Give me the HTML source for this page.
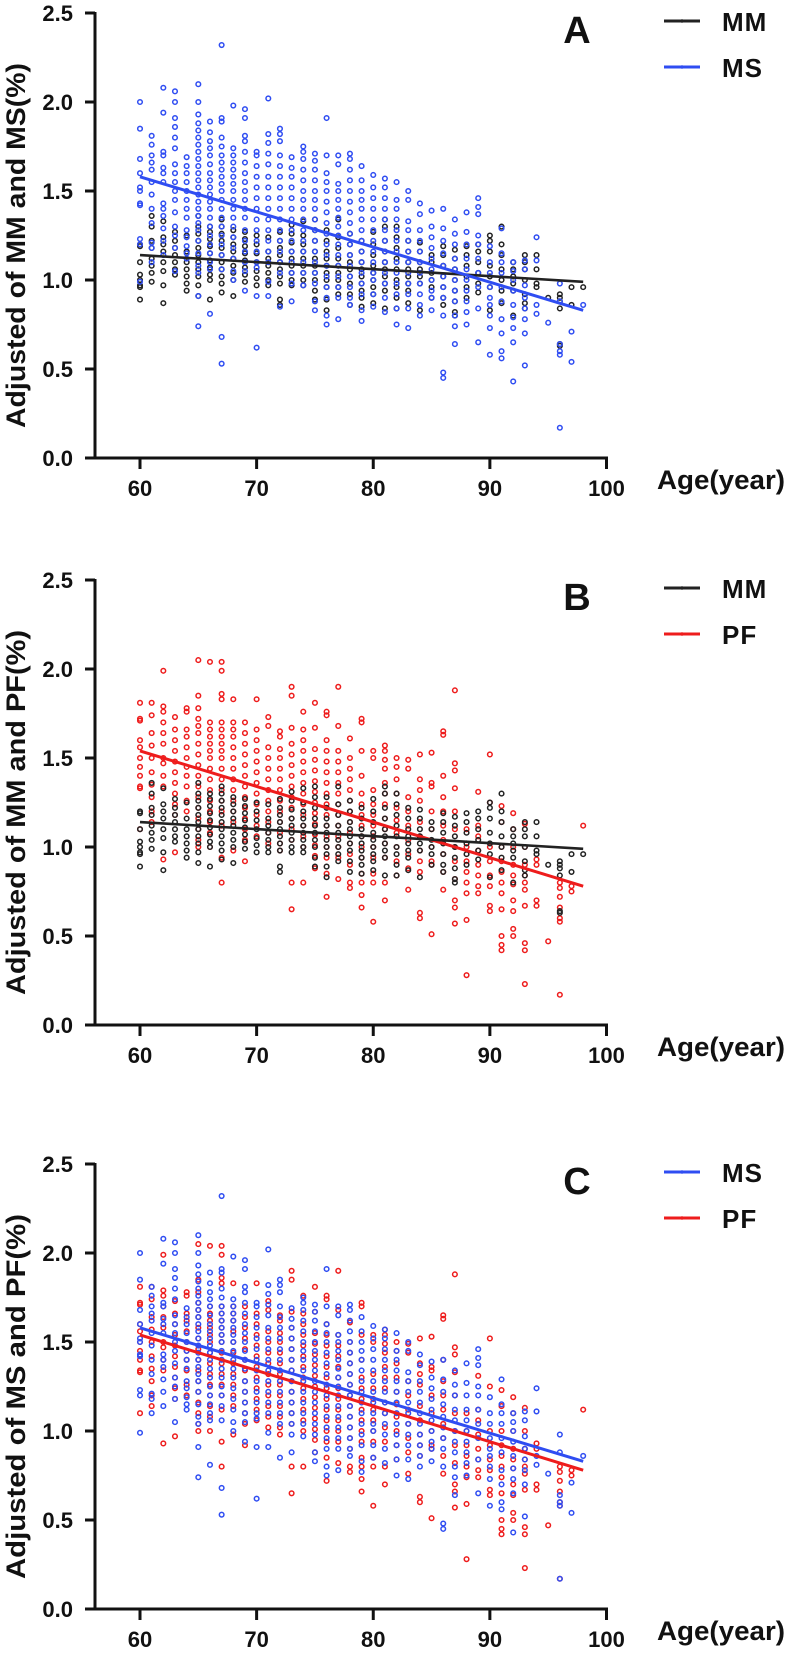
<!DOCTYPE html>
<html><head><meta charset="utf-8"><style>
html,body{margin:0;padding:0;background:#fff;}
svg{display:block;}
text{font-family:"Liberation Sans",Arial,sans-serif;font-weight:bold;fill:#111;}
</style></head><body>
<svg id="chart" width="787" height="1653" viewBox="0 0 787 1653" xmlns="http://www.w3.org/2000/svg"></svg>
<script>
const ages=[60,61,62,63,64,65,66,67,68,69,70,71,72,73,74,75,76,77,78,79,80,81,82,83,84,85,86,87,88,89,90,91,92,93,94,95,96,97,98];
const xTicks=[60,70,80,90,100];
const yTicks=[0.0,0.5,1.0,1.5,2.0,2.5];
const msValues=[
[2.00,1.85,1.68,1.60,1.52,1.50,1.43,1.42,1.23,1.20,0.99],
[1.81,1.76,1.70,1.66,1.62,1.55,1.48,1.40,1.32,1.21,1.18,1.10],
[2.08,1.94,1.72,1.70,1.63,1.60,1.55,1.43,1.40,1.36,1.29,1.22,1.14],
[2.06,2.00,1.91,1.86,1.80,1.74,1.65,1.60,1.55,1.50,1.45,1.38,1.30,1.25,1.18,1.05],
[1.69,1.64,1.60,1.55,1.50,1.45,1.40,1.35,1.28,1.24,1.19,1.15,1.12],
[2.10,2.00,1.93,1.88,1.84,1.80,1.76,1.72,1.68,1.64,1.60,1.56,1.52,1.48,1.44,1.40,1.36,1.32,1.28,1.22,1.15,1.08,1.04,0.91,0.74],
[1.89,1.83,1.78,1.74,1.70,1.65,1.60,1.56,1.52,1.48,1.44,1.40,1.35,1.30,1.25,1.20,1.15,1.10,1.06,0.81],
[2.32,1.91,1.89,1.80,1.75,1.70,1.66,1.62,1.58,1.54,1.50,1.45,1.40,1.35,1.30,1.25,1.20,1.14,1.06,0.68,0.53],
[1.98,1.74,1.70,1.66,1.62,1.58,1.54,1.50,1.45,1.40,1.35,1.30,1.24,1.18,1.12,1.05,1.00],
[1.96,1.91,1.81,1.78,1.72,1.66,1.60,1.55,1.50,1.45,1.40,1.35,1.28,1.22,1.16,1.10,1.05,0.94],
[1.72,1.70,1.64,1.58,1.52,1.46,1.40,1.34,1.28,1.22,1.16,1.10,1.07,0.91,0.62],
[2.02,1.82,1.77,1.71,1.65,1.58,1.52,1.46,1.40,1.34,1.28,1.22,1.16,1.10,0.99,0.91],
[1.85,1.82,1.78,1.70,1.64,1.58,1.52,1.46,1.40,1.34,1.28,1.22,1.16,1.10,1.04,0.85],
[1.69,1.63,1.58,1.52,1.46,1.40,1.34,1.28,1.22,1.16,1.10,1.04,0.98,0.88],
[1.75,1.72,1.68,1.62,1.56,1.50,1.45,1.40,1.34,1.28,1.22,1.16,1.10,1.04,0.97],
[1.71,1.67,1.62,1.56,1.50,1.45,1.40,1.34,1.28,1.22,1.16,1.10,1.04,0.98,0.88,0.83],
[1.91,1.70,1.60,1.55,1.50,1.44,1.38,1.32,1.26,1.20,1.14,1.08,1.02,0.96,0.90,0.80,0.75],
[1.70,1.65,1.54,1.50,1.45,1.40,1.35,1.30,1.25,1.20,1.14,1.08,1.02,0.96,0.90,0.78],
[1.71,1.68,1.62,1.56,1.50,1.44,1.38,1.32,1.26,1.20,1.14,1.08,1.02,0.96,0.90,0.86],
[1.64,1.56,1.50,1.45,1.40,1.34,1.28,1.22,1.16,1.10,1.04,0.98,0.92,0.83,0.77],
[1.59,1.52,1.46,1.40,1.34,1.28,1.22,1.16,1.10,1.04,1.00,0.92,0.85],
[1.57,1.52,1.46,1.40,1.34,1.28,1.22,1.16,1.10,1.04,0.98,0.90,0.82],
[1.55,1.45,1.40,1.34,1.28,1.22,1.16,1.10,1.04,0.98,0.92,0.84,0.75],
[1.50,1.45,1.33,1.28,1.22,1.16,1.10,1.04,0.98,0.92,0.84,0.73],
[1.43,1.37,1.28,1.22,1.16,1.10,1.04,0.98,0.92,0.86,0.80],
[1.39,1.30,1.24,1.18,1.12,1.06,1.00,0.94,0.90,0.83],
[1.40,1.29,1.22,1.15,1.08,1.02,0.96,0.90,0.80,0.48,0.45],
[1.34,1.26,1.20,1.12,1.06,1.00,0.94,0.88,0.80,0.74,0.64],
[1.38,1.27,1.20,1.12,1.06,1.00,0.94,0.88,0.82,0.75],
[1.46,1.41,1.37,1.25,1.20,1.12,1.04,0.96,0.84,0.65],
[1.19,1.10,1.04,0.96,0.90,0.86,0.80,0.73,0.58],
[1.29,1.15,1.10,1.04,0.96,0.88,0.78,0.70,0.60,0.56],
[1.10,1.05,1.00,0.94,0.86,0.79,0.73,0.65,0.43],
[1.11,1.06,0.97,0.90,0.84,0.78,0.70,0.52],
[1.24,1.11,0.86,0.81],
[0.76],
[0.98,0.88,0.64,0.60,0.58,0.17],
[0.71,0.54],
[0.86]];
const pfValues=[
[1.81,1.72,1.71,1.60,1.56,1.50,1.45,1.40,1.34,1.33,1.10],
[1.81,1.74,1.64,1.57,1.50,1.42,1.35,1.28,1.20,1.14],
[1.99,1.79,1.76,1.70,1.64,1.58,1.50,1.47,1.40,1.34,0.93],
[1.73,1.66,1.60,1.54,1.48,1.42,1.36,1.30,1.24,1.18,0.97],
[1.78,1.76,1.66,1.62,1.56,1.50,1.45,1.40,1.34,1.26,1.20],
[2.05,1.85,1.78,1.72,1.68,1.64,1.58,1.52,1.46,1.40,1.34,1.28,1.22,1.16,1.10,1.04,1.00],
[2.04,1.70,1.66,1.62,1.58,1.54,1.50,1.44,1.38,1.32,1.26,1.20,1.14,1.08,1.00],
[2.04,1.99,1.86,1.83,1.70,1.66,1.62,1.58,1.54,1.50,1.44,1.38,1.32,1.26,1.20,1.12,0.94,0.80],
[1.83,1.70,1.66,1.62,1.56,1.50,1.44,1.38,1.32,1.26,1.20,1.14,0.98],
[1.70,1.64,1.58,1.52,1.46,1.40,1.34,1.28,1.22,1.16,1.10,1.04,0.92],
[1.83,1.66,1.60,1.54,1.48,1.42,1.36,1.30,1.24,1.18,1.12,1.06],
[1.73,1.68,1.56,1.50,1.44,1.38,1.32,1.26,1.20,1.14,1.08,1.02],
[1.65,1.62,1.55,1.50,1.44,1.38,1.32,1.26,1.20,1.14,1.08,1.02,0.98],
[1.90,1.85,1.67,1.58,1.52,1.46,1.40,1.34,1.28,1.22,1.16,1.10,1.04,0.80,0.65],
[1.76,1.66,1.60,1.54,1.48,1.42,1.36,1.30,1.24,1.18,1.12,1.06,1.00,0.80],
[1.81,1.67,1.55,1.49,1.43,1.37,1.31,1.25,1.19,1.13,1.07,1.01,0.95,0.88],
[1.76,1.74,1.60,1.54,1.48,1.42,1.36,1.30,1.24,1.18,1.12,1.06,1.00,0.94,0.85,0.72],
[1.90,1.68,1.54,1.48,1.42,1.36,1.30,1.24,1.18,1.12,1.06,1.00,0.94,0.82],
[1.61,1.50,1.44,1.38,1.32,1.26,1.20,1.14,1.08,1.02,0.96,0.90,0.80,0.77],
[1.72,1.70,1.54,1.40,1.30,1.24,1.18,1.12,1.06,1.00,0.94,0.85,0.80,0.73,0.66],
[1.54,1.50,1.32,1.24,1.18,1.12,1.06,1.00,0.94,0.85,0.80,0.58],
[1.57,1.54,1.49,1.44,1.36,1.30,1.24,1.16,1.10,1.02,0.94,0.80,0.70],
[1.50,1.45,1.38,1.30,1.22,1.15,1.08,1.00,0.92,0.84],
[1.49,1.44,1.28,1.20,1.12,1.04,0.96,0.88,0.76],
[1.52,1.38,1.32,1.26,1.14,1.06,0.98,0.92,0.86,0.63,0.60],
[1.53,1.36,1.34,1.20,1.10,1.00,0.92,0.90,0.51],
[1.65,1.63,1.40,1.28,1.20,1.12,1.04,0.96,0.86,0.76],
[1.88,1.47,1.43,1.33,1.20,1.10,1.00,0.92,0.82,0.70,0.66,0.57],
[1.10,1.00,0.92,0.86,0.80,0.74,0.59,0.28],
[1.31,1.12,1.06,0.98,0.90,0.84,0.78,0.74],
[1.52,1.25,1.00,0.92,0.84,0.78,0.67,0.64],
[1.23,1.14,1.00,0.92,0.86,0.80,0.74,0.65,0.50,0.45,0.42],
[1.19,1.10,1.00,0.90,0.84,0.79,0.70,0.64,0.54,0.50],
[1.13,1.00,0.90,0.84,0.80,0.76,0.67,0.46,0.42,0.23],
[0.93,0.90,0.70,0.67],
[0.47],
[0.80,0.77,0.72,0.66,0.60,0.58,0.17],
[0.78,0.75],
[1.12]];
const mmValues=[
[1.20,1.19,1.10,1.03,1.00,0.97,0.96,0.89],
[1.36,1.30,1.22,1.18,1.12,1.08,1.04,0.99],
[1.33,1.24,1.20,1.16,1.10,1.05,0.97,0.87],
[1.27,1.22,1.18,1.14,1.10,1.06,1.03],
[1.25,1.16,1.10,1.06,1.02,0.98,0.94],
[1.36,1.30,1.26,1.22,1.18,1.14,1.10,1.06,1.02,0.97,0.91],
[1.30,1.27,1.23,1.19,1.15,1.11,1.07,1.03,1.00,0.89],
[1.34,1.30,1.26,1.22,1.18,1.14,1.10,1.06,1.02,0.98,0.93],
[1.28,1.24,1.20,1.16,1.12,1.08,1.04,1.00,0.91],
[1.27,1.23,1.19,1.15,1.11,1.07,1.03,0.99],
[1.25,1.20,1.15,1.10,1.05,1.01,0.97],
[1.24,1.16,1.12,1.08,1.04,1.00,0.97],
[1.27,1.22,1.18,1.14,1.10,1.06,1.02,0.98,0.89,0.86],
[1.31,1.26,1.21,1.16,1.12,1.08,1.04,1.00,0.97],
[1.33,1.25,1.20,1.16,1.12,1.08,1.04,1.00,0.97],
[1.34,1.28,1.22,1.16,1.12,1.08,1.04,1.00,0.94,0.89],
[1.28,1.22,1.16,1.12,1.08,1.04,1.00,0.96,0.89,0.83],
[1.34,1.24,1.18,1.12,1.08,1.04,1.00,0.96,0.92],
[1.26,1.20,1.14,1.10,1.06,1.02,0.98,0.92,0.86],
[1.22,1.16,1.10,1.06,1.02,0.98,0.94,0.90,0.85],
[1.27,1.20,1.14,1.08,1.04,1.00,0.96,0.92,0.87],
[1.34,1.30,1.22,1.16,1.10,1.06,1.02,0.98,0.94,0.84],
[1.30,1.24,1.18,1.12,1.06,1.00,0.96,0.90,0.84],
[1.22,1.16,1.10,1.06,1.02,0.98,0.94,0.87],
[1.21,1.16,1.10,1.06,1.02,0.98,0.83],
[1.14,1.10,1.04,1.00,0.96,0.90],
[1.19,1.14,1.08,1.02,0.96,0.90,0.86],
[1.17,1.12,1.06,1.00,0.94,0.88,0.82,0.80],
[1.19,1.14,1.08,1.02,0.96,0.90],
[1.20,1.16,1.10,1.04,0.98,0.93],
[1.25,1.22,1.16,1.08,1.02,0.96,0.83],
[1.30,1.20,1.14,1.06,1.00,0.94,0.87],
[1.10,1.06,1.02,0.98,0.94,0.80],
[1.14,1.10,1.06,1.00,0.92,0.87,0.84],
[1.14,1.06,0.98,0.96],
[0.90],
[0.92,0.90,0.88,0.84,0.64,0.63],
[0.96,0.86],
[0.96]];
const fitAges=[60,98];
const mmFit=[1.14,0.99];
const msFit=[1.58,0.83];
const pfFit=[1.54,0.78];

const NS='http://www.w3.org/2000/svg';
const svg=document.getElementById('chart');
function mk(tag,attrs,parent){const e=document.createElementNS(NS,tag);for(const k in attrs)e.setAttribute(k,attrs[k]);(parent||svg).appendChild(e);return e;}
const COL={MM:'#222222',MS:'#2f4df2',PF:'#ee1c1c'};
const DATA={MM:mmValues,MS:msValues,PF:pfValues};
const FIT={MM:mmFit,MS:msFit,PF:pfFit};
const panels=[
 {top:13,letter:'A',title:'Adjusted of MM and MS(%)',series:['MM','MS']},
 {top:580,letter:'B',title:'Adjusted of MM and PF(%)',series:['PF','MM'],legend:['MM','PF']},
 {top:1164,letter:'C',title:'Adjusted of MS and PF(%)',series:['PF','MS'],legend:['MS','PF']}
];
const X0=95,XL=140,XR=606.5,H=445;
function xs(a){return XL+(a-60)/40*(XR-XL);}
panels.forEach(function(p,pi){
 const g=mk('g',{});
 
 
 const y0=p.top+H;
 function ys(v){return y0-v/2.5*H;}
 const ax=mk('path',{d:'M'+X0+' '+(p.top-1)+'V'+y0+'H'+(XR+1.5),fill:'none',stroke:'#111','stroke-width':3},g);
 
 
 yTicks.forEach(function(t){
  const y=ys(t);
  mk('line',{x1:X0-10,x2:X0,y1:y,y2:y,stroke:'#111','stroke-width':3},g);
  const tx=mk('text',{x:X0-22,y:y+8,'text-anchor':'end','font-size':22},g);
  tx.textContent=t.toFixed(1);
  
  
 });
 xTicks.forEach(function(t){
  const x=xs(t);
  mk('line',{x1:x,x2:x,y1:y0,y2:y0+11,stroke:'#111','stroke-width':3},g);
  const tx=mk('text',{x:x,y:y0+38,'text-anchor':'middle','font-size':22},g);
  tx.textContent=t;
  
  
 });
 const xt=mk('text',{x:657,y:y0+31,'font-size':27,textLength:128,lengthAdjust:'spacingAndGlyphs'},g);
 xt.textContent='Age(year)';
 
 
 const yt=mk('text',{x:0,y:0,'text-anchor':'middle','font-size':27,textLength:365,lengthAdjust:'spacingAndGlyphs',transform:'translate(25,'+(p.top+H/2+10)+') rotate(-90)'},g);
 yt.textContent=p.title;
 
 
 p.series.forEach(function(s){
  const sg=mk('g',{fill:'none',stroke:COL[s],'stroke-width':1.5},g);
  
  
  DATA[s].forEach(function(vals,i){
   vals.forEach(function(v){
    const c=mk('circle',{cx:xs(ages[i]),cy:ys(v),r:2.3},sg);
    
    
   });
  });
 });
 p.series.forEach(function(s){
  const f=FIT[s];
  const l=mk('line',{x1:xs(fitAges[0]),y1:ys(f[0]),x2:xs(fitAges[1]),y2:ys(f[1]),stroke:COL[s],'stroke-width':s==='MM'?2.6:3},g);
  
  
 });
 const lt=mk('text',{x:577,y:p.top+30,'text-anchor':'middle','font-size':38},g);
 lt.textContent=p.letter;
 
 
 const leg=p.legend||p.series;
 leg.forEach(function(s,k){
  const ly=p.top+8+k*46;
  const lg=mk('g',{},g);
  
  
  mk('line',{x1:664,x2:700,y1:ly,y2:ly,stroke:COL[s],'stroke-width':3},lg);
  mk('circle',{cx:682,cy:ly,r:1.8,fill:COL[s]},lg);
  const tt=mk('text',{x:722,y:ly+10,'font-size':26,'letter-spacing':1},lg);
  tt.textContent=s;
 });
});
</script>
</body></html>
